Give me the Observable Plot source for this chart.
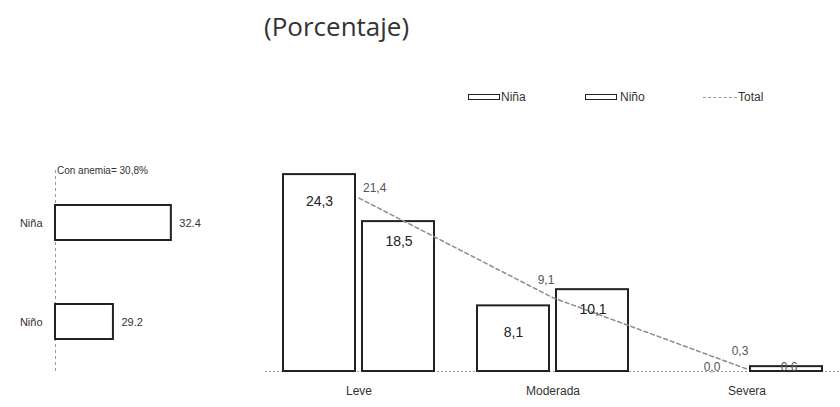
<!DOCTYPE html>
<html>
<head>
<meta charset="utf-8">
<script src="https://cdn.jsdelivr.net/npm/d3@7"></script>
<script src="https://cdn.jsdelivr.net/npm/@observablehq/plot@0.6"></script>
<style>
  html, body { margin: 0; padding: 0; background: #fff; }
  #wrap { position: relative; width: 840px; height: 407px; overflow: hidden; font-family: "Liberation Sans", Arial, sans-serif; color: #222; }
  .abs { position: absolute; }
  #title { left: 264px; top: 8px; font-family: "Open Sans", sans-serif; font-size: 26px; color: #333; white-space: nowrap; }
  .leg { font-size: 12px; color: #333; top: 89px; line-height: 16px; }
  .swatch { position: absolute; width: 30px; height: 4px; border: 1.5px solid #222; top: 94px; background: #fff; }
  .dash { position: absolute; width: 34px; top: 97px; border-top: 1.5px dashed #999; }
  #anemia { left: 57px; top: 165px; font-size: 10px; color: #333; white-space: nowrap; }
</style>
</head>
<body>
<div id="wrap">
  <div id="title" class="abs">(Porcentaje)</div>
  <div class="swatch" style="left:468px"></div><div class="abs leg" style="left:501px">Niña</div>
  <div class="swatch" style="left:585px"></div><div class="abs leg" style="left:620px">Niño</div>
  <div class="dash" style="left:703px"></div><div class="abs leg" style="left:738px">Total</div>
  <div id="anemia" class="abs">Con anemia= 30,8%</div>
  <div id="left" class="abs" style="left:0px; top:160px"></div>
  <div id="right" class="abs" style="left:250px; top:160px"></div>
</div>
<script>
// ---- Data ----
const sexes = ["Niña", "Niño"];
const anemiaBySex = [32.4, 29.2];
const axisStart = 26;

const levels = ["Leve", "Moderada", "Severa"];
const ninaValues = [24.3, 8.1, 0.0];
const ninoValues = [18.5, 10.1, 0.6];
const totalValues = [21.4, 9.1, 0.3];

const fmtComma = v => v.toFixed(1).replace(".", ",");

// ---- Left panel ----
const leftData = sexes.map((s, i) => ({sex: s, value: anemiaBySex[i]}));
const left = Plot.plot({
  width: 250, height: 220,
  marginTop: 14, marginBottom: 11, marginLeft: 55, marginRight: 14,
  style: {fontFamily: "Liberation Sans, Arial, sans-serif", fontSize: "11px", color: "#333", background: "transparent"},
  x: {domain: [axisStart, 36], axis: null},
  y: {domain: sexes, paddingInner: 0.65, paddingOuter: 0.3, tickSize: 0, tickPadding: 13, label: null},
  marks: [
    Plot.ruleX([axisStart], {stroke: "#999", strokeDasharray: "3,3", insetTop: -4, insetBottom: -3}),
    Plot.barX(leftData, {y: "sex", x1: () => axisStart, x2: "value", fill: "white", stroke: "#222", strokeWidth: 2}),
    Plot.text(leftData, {y: "sex", x: "value", text: d => d.value.toFixed(1), textAnchor: "start", dx: 8, fontSize: 11, fill: "#333"})
  ]
});
document.getElementById("left").appendChild(left);

// ---- Right panel ----
const nina = levels.map((l, i) => ({level: l, value: ninaValues[i]}));
const nino = levels.map((l, i) => ({level: l, value: ninoValues[i]}));
const total = levels.map((l, i) => ({level: l, value: totalValues[i], i}));

const right = Plot.plot({
  width: 590, height: 245,
  marginTop: 6, marginBottom: 34, marginLeft: 15, marginRight: 0,
  style: {fontFamily: "Liberation Sans, Arial, sans-serif", fontSize: "12px", color: "#333", background: "transparent"},
  x: {domain: levels, paddingInner: 0.224, paddingOuter: 0.09, tickSize: 0, tickPadding: 15, label: null},
  y: {domain: [0, 25.3], axis: null},
  marks: [
    Plot.ruleY([0], {stroke: "#999", strokeDasharray: "2,2"}),
    Plot.barY(nina, {x: "level", y: "value", insetRight: 79, fill: "white", stroke: "#222", strokeWidth: 2}),
    Plot.barY(nino, {x: "level", y: "value", insetLeft: 79, fill: "white", stroke: "#222", strokeWidth: 2}),
    Plot.line(total, {x: "level", y: "value", stroke: "#8c8c8c", strokeWidth: 1.5, strokeDasharray: "4,3"}),
    // bar labels (large values inside bar)
    Plot.text(nina, {filter: d => d.value >= 5, x: "level", y: "value", text: d => fmtComma(d.value), dx: -39.5, dy: 27, fontSize: 14, fill: "#222"}),
    Plot.text(nino, {filter: d => d.value >= 5, x: "level", y: "value", text: d => fmtComma(d.value), dx: 40, dy: 20, fontSize: 14, fill: "#222"}),
    // small values near baseline
    Plot.text(nina, {filter: d => d.value < 5, x: "level", y: "value", text: d => fmtComma(d.value), dx: -35, dy: -4, fontSize: 12, fill: "#555"}),
    Plot.text(nino, {filter: d => d.value < 5, x: "level", y: "value", text: d => fmtComma(d.value), dx: 42, dy: 1, fontSize: 12, fill: "#555"}),
    // total labels
    Plot.text(total, {filter: d => d.i === 0, x: "level", y: "value", text: d => fmtComma(d.value), textAnchor: "start", dx: 4, dy: -10, fontSize: 12, fill: "#555"}),
    Plot.text(total, {filter: d => d.i > 0, x: "level", y: "value", text: d => fmtComma(d.value), dx: -7, dy: -18, fontSize: 12, fill: "#555"})
  ]
});
document.getElementById("right").appendChild(right);
</script>
</body>
</html>
